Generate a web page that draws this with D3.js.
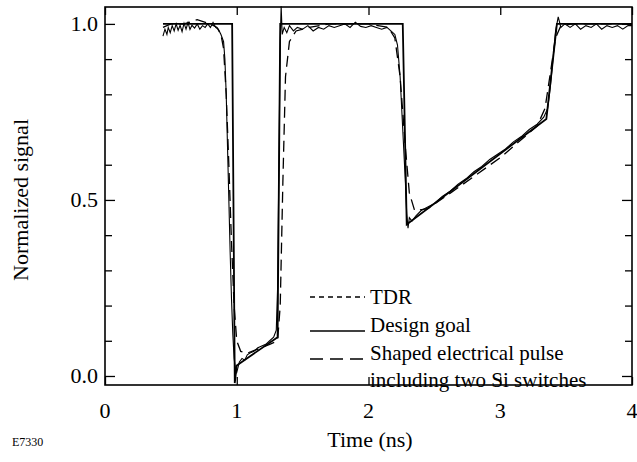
<!DOCTYPE html>
<html>
<head>
<meta charset="utf-8">
<script src="https://cdn.jsdelivr.net/npm/d3@7"></script>
<style>
  body { margin: 0; background: #fff; }
  svg { display: block; }
  svg text { font-family: "Liberation Serif", "DejaVu Serif", serif; }
</style>
</head>
<body>
<div id="chart"></div>
<script>
// time (ns) and normalized signal
const tdrT = [0.44, 0.455, 0.47, 0.48, 0.495, 0.51, 0.525, 0.54, 0.555, 0.57, 0.585, 0.60, 0.615, 0.63, 0.645, 0.66, 0.68, 0.70, 0.72, 0.74, 0.76, 0.78, 0.80, 0.82, 0.84, 0.86, 0.88, 0.90, 0.91, 0.92, 0.93, 0.94, 0.95, 0.96, 0.97, 0.98, 0.99, 1.00, 1.02, 1.04, 1.06, 1.08, 1.10, 1.13, 1.16, 1.19, 1.22, 1.25, 1.28, 1.30, 1.31, 1.32, 1.33, 1.337, 1.345, 1.36, 1.38, 1.40, 1.43, 1.46, 1.50, 1.54, 1.58, 1.62, 1.66, 1.70, 1.74, 1.78, 1.82, 1.86, 1.90, 1.94, 1.98, 2.02, 2.06, 2.10, 2.14, 2.17, 2.20, 2.22, 2.24, 2.26, 2.28, 2.29, 2.30, 2.31, 2.33, 2.36, 2.40, 2.45, 2.50, 2.56, 2.62, 2.68, 2.74, 2.80, 2.86, 2.92, 2.98, 3.04, 3.10, 3.16, 3.22, 3.28, 3.33, 3.36, 3.38, 3.40, 3.42, 3.44, 3.46, 3.49, 3.53, 3.57, 3.61, 3.65, 3.69, 3.73, 3.77, 3.81, 3.85, 3.89, 3.93, 3.97, 4.0];
const tdrV = [0.965, 0.985, 0.97, 0.99, 0.975, 0.995, 0.98, 1.0, 0.982, 0.996, 0.978, 1.002, 0.985, 1.004, 0.984, 0.996, 0.988, 1.0, 0.985, 0.995, 0.99, 1.0, 0.99, 1.004, 0.99, 0.985, 0.97, 0.95, 0.90, 0.80, 0.65, 0.50, 0.35, 0.22, 0.12, 0.05, 0.02, 0.01, 0.04, 0.05, 0.045, 0.06, 0.065, 0.07, 0.08, 0.085, 0.09, 0.10, 0.11, 0.13, 0.25, 0.60, 0.95, 1.05, 0.97, 0.99, 0.975, 0.995, 0.98, 0.99, 0.985, 0.995, 0.98, 0.99, 0.985, 0.995, 0.99, 0.995, 1.0, 0.99, 1.005, 0.993, 0.99, 0.995, 0.99, 0.985, 0.99, 0.98, 0.97, 0.94, 0.85, 0.70, 0.55, 0.46, 0.42, 0.45, 0.44, 0.455, 0.47, 0.48, 0.49, 0.51, 0.525, 0.545, 0.56, 0.58, 0.595, 0.615, 0.63, 0.645, 0.665, 0.68, 0.70, 0.715, 0.735, 0.76, 0.82, 0.90, 0.98, 1.02, 0.99, 1.0, 0.99, 1.0, 0.985, 0.995, 0.99, 1.0, 0.985, 0.995, 0.99, 0.995, 0.985, 0.995, 0.995];

const goalT = [0.44, 0.965, 0.985, 1.0, 1.31, 1.33, 2.26, 2.29, 3.35, 3.43, 4.0];
const goalV = [1.0, 1.0, -0.02, 0.03, 0.11, 1.0, 1.0, 0.43, 0.73, 1.0, 1.0];

const pulseT = [0.44, 0.5, 0.6, 0.7, 0.8, 0.85, 0.88, 0.90, 0.92, 0.94, 0.96, 0.98, 1.0, 1.03, 1.08, 1.15, 1.25, 1.31, 1.33, 1.35, 1.37, 1.40, 1.45, 1.55, 1.7, 2.0, 2.15, 2.2, 2.24, 2.28, 2.31, 2.35, 2.45, 2.7, 3.0, 3.28, 3.34, 3.38, 3.42, 3.46, 3.55, 4.0];
const pulseV = [0.99, 1.0, 1.0, 1.012, 1.0, 0.99, 0.97, 0.93, 0.80, 0.60, 0.38, 0.20, 0.10, 0.07, 0.065, 0.075, 0.09, 0.10, 0.20, 0.55, 0.85, 0.95, 0.98, 0.99, 1.0, 1.0, 0.99, 0.96, 0.85, 0.65, 0.52, 0.47, 0.475, 0.54, 0.62, 0.71, 0.76, 0.86, 0.96, 0.995, 1.0, 1.0];

const xTicks = [0, 1, 2, 3, 4];
const yTicks = [0, 0.5, 1.0];
const yMinor = [0.1, 0.2, 0.3, 0.4, 0.6, 0.7, 0.8, 0.9];
const legendItems = ["TDR", "Design goal", "Shaped electrical pulse"];

const width = 637, height = 462;
const plot = { left: 105, right: 632, top: 7, bottom: 385 };

const x = d3.scaleLinear().domain([0, 4]).range([plot.left, plot.right]);
const y = d3.scaleLinear().domain([-0.0256, 1.048]).range([plot.bottom, plot.top]);

const svg = d3.select("#chart").append("svg")
    .attr("width", width)
    .attr("height", height);

// minor y ticks, both sides
svg.append("g").attr("class", "axis")
    .attr("transform", `translate(${plot.left},0)`)
    .call(d3.axisRight(y).tickValues(yMinor).tickSize(7).tickFormat(""))
    .call(g => g.select(".domain").remove());
svg.append("g").attr("class", "axis")
    .attr("transform", `translate(${plot.right},0)`)
    .call(d3.axisLeft(y).tickValues(yMinor).tickSize(7).tickFormat(""))
    .call(g => g.select(".domain").remove());
// major y ticks
svg.append("g").attr("class", "axis")
    .attr("transform", `translate(${plot.left},0)`)
    .call(d3.axisRight(y).tickValues(yTicks).tickSize(10).tickFormat(""))
    .call(g => g.select(".domain").remove());
svg.append("g").attr("class", "axis")
    .attr("transform", `translate(${plot.right},0)`)
    .call(d3.axisLeft(y).tickValues(yTicks).tickSize(10).tickFormat(""))
    .call(g => g.select(".domain").remove());
// x ticks top & bottom
svg.append("g").attr("class", "axis")
    .attr("transform", `translate(0,${plot.bottom})`)
    .call(d3.axisTop(x).tickValues(xTicks).tickSize(8).tickFormat(""))
    .call(g => g.select(".domain").remove());
svg.append("g").attr("class", "axis")
    .attr("transform", `translate(0,${plot.top})`)
    .call(d3.axisBottom(x).tickValues(xTicks).tickSize(8).tickFormat(""))
    .call(g => g.select(".domain").remove());
svg.selectAll(".axis line").attr("stroke", "#000").attr("stroke-width", 1.3);

// frame
svg.append("rect")
    .attr("x", plot.left).attr("y", plot.top)
    .attr("width", plot.right - plot.left)
    .attr("height", plot.bottom - plot.top)
    .attr("fill", "none").attr("stroke", "#000").attr("stroke-width", 1.6);

// tick labels
svg.append("g").selectAll("text")
    .data(yTicks)
    .join("text")
    .attr("x", 98)
    .attr("y", d => y(d) + 7)
    .attr("text-anchor", "end")
    .attr("font-size", 22)
    .text(d => d3.format(".1f")(d));

svg.append("g").selectAll("text")
    .data(xTicks)
    .join("text")
    .attr("x", d => x(d))
    .attr("y", 418)
    .attr("text-anchor", "middle")
    .attr("font-size", 22)
    .text(d => d);

// axis titles
svg.append("text")
    .attr("transform", `translate(28,${y(0.5)}) rotate(-90)`)
    .attr("text-anchor", "middle")
    .attr("font-size", 22)
    .text("Normalized signal");
svg.append("text")
    .attr("x", 370).attr("y", 447)
    .attr("text-anchor", "middle")
    .attr("font-size", 22)
    .text("Time (ns)");
svg.append("text")
    .attr("x", 12).attr("y", 446)
    .attr("font-size", 12)
    .text("E7330");

// curves
const line = d3.line().x(d => x(d[0])).y(d => y(d[1]));
const zip = (ts, vs) => ts.map((t, i) => [t, vs[i]]);

svg.append("path")
    .datum(zip(pulseT, pulseV))
    .attr("d", line)
    .attr("fill", "none").attr("stroke", "#000")
    .attr("stroke-width", 1.3)
    .attr("stroke-dasharray", "11,6");

svg.append("path")
    .datum(zip(tdrT, tdrV))
    .attr("d", line)
    .attr("fill", "none").attr("stroke", "#000")
    .attr("stroke-width", 1.1);

svg.append("path")
    .datum(zip(goalT, goalV))
    .attr("d", line)
    .attr("fill", "none").attr("stroke", "#000")
    .attr("stroke-width", 1.8);

// legend
const leg = svg.append("g");
const legY = [297, 325, 353];
const dashes = ["5,4", null, "13,7"];
const lineY = [297, 331, 359];
legendItems.forEach((name, i) => {
    leg.append("line")
        .attr("x1", 310).attr("x2", 365)
        .attr("y1", lineY[i]).attr("y2", lineY[i])
        .attr("stroke", "#000").attr("stroke-width", 1.3)
        .attr("stroke-dasharray", dashes[i]);
    leg.append("text")
        .attr("x", 370).attr("y", legY[i] + 7)
        .attr("font-size", 21)
        .text(name);
});
leg.append("text")
    .attr("x", 370).attr("y", 387)
    .attr("font-size", 21)
    .text("including two Si switches");
</script>
</body>
</html>
